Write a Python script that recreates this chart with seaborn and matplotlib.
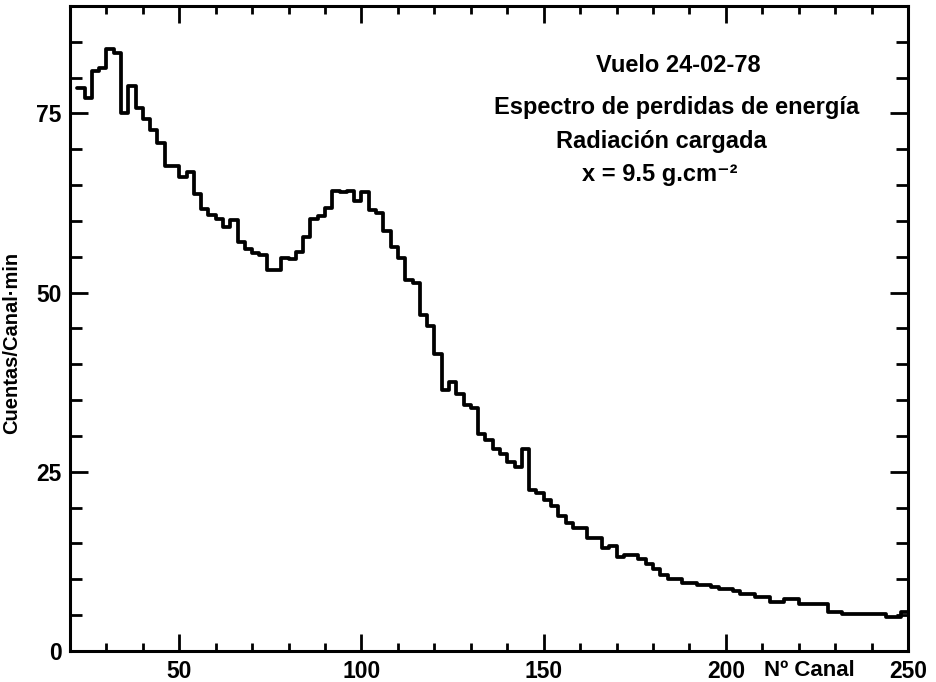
import matplotlib
matplotlib.use("Agg")
import matplotlib.pyplot as plt
import numpy as np
import pandas as pd
import seaborn as sns
from matplotlib.ticker import MultipleLocator

# counts per channel, 2-channel bins starting at channel 22
canal_inicio = 22
ancho_bin = 2
cuentas = [
    78.6, 77.1, 80.9, 81.4, 84.0, 83.5, 75.0, 78.8, 75.7, 74.3,
    72.7, 70.9, 67.7, 67.7, 66.1, 66.8, 63.7, 61.7, 60.9, 60.3,
    59.2, 60.2, 57.1, 56.1, 55.6, 55.2, 53.2, 53.2, 54.9, 54.7,
    55.7, 57.8, 60.3, 60.7, 61.8, 64.2, 64.1, 64.2, 62.8, 64.0,
    61.5, 61.1, 58.6, 56.4, 54.9, 51.8, 51.4, 46.9, 45.3, 41.4,
    36.4, 37.5, 35.9, 34.3, 33.9, 30.3, 29.5, 28.2, 27.5, 26.4,
    25.7, 28.2, 22.4, 22.0, 21.1, 20.2, 18.8, 17.9, 17.2, 17.2,
    15.7, 15.7, 14.3, 14.6, 13.1, 13.4, 13.4, 12.8, 12.1, 11.4,
    10.6, 10.0, 10.0, 9.5, 9.5, 9.2, 9.2, 8.9, 8.7, 8.6,
    8.4, 8.0, 8.0, 7.5, 7.5, 6.9, 6.9, 7.2, 7.2, 6.6,
    6.6, 6.6, 6.6, 5.5, 5.5, 5.2, 5.2, 5.2, 5.2, 5.2,
    5.2, 4.8, 4.8, 5.5,
]

x_ticks = [50, 100, 150, 200, 250]
y_ticks = [0, 25, 50, 75]
textos = [
    "Vuelo 24-02-78",
    "Espectro de perdidas de energía",
    "Radiación cargada",
    "x = 9.5 g.cm⁻²",
]

sns.set_theme(style="ticks")
plt.rcParams["font.family"] = ["Liberation Sans", "DejaVu Sans"]
plt.rcParams["font.weight"] = "bold"
plt.rcParams["text.color"] = "black"
plt.rcParams["axes.labelcolor"] = "black"

bordes = canal_inicio + ancho_bin * np.arange(len(cuentas) + 1)
df = pd.DataFrame({
    "canal": bordes[:-1] + ancho_bin / 2,
    "cuentas": cuentas,
})

fig = plt.figure(figsize=(9.36, 6.82), dpi=100)
ax = fig.add_axes([0.0748, 0.0455, 0.8953, 0.9457])

sns.histplot(
    data=df, x="canal", weights="cuentas", bins=bordes.tolist(),
    element="step", fill=False, color="black", linewidth=2.7,
    ax=ax,
)

ax.set_xlim(20, 250)
ax.set_ylim(0, 90)
ax.set_xticks(x_ticks)
ax.set_yticks(y_ticks)
ax.xaxis.set_minor_locator(MultipleLocator(10))
ax.yaxis.set_minor_locator(MultipleLocator(5))

for side in ax.spines.values():
    side.set_linewidth(2.2)
    side.set_color("black")

ax.tick_params(axis="x", which="both", direction="in", top=True,
               width=2.0, labelsize=16.5, pad=6.5, colors="black")
ax.tick_params(axis="x", which="major", length=12)
ax.tick_params(axis="x", which="minor", length=6)
ax.tick_params(axis="y", which="both", direction="in", right=True,
               width=2.0, labelsize=16.5, pad=6, colors="black")
ax.tick_params(axis="y", which="major", length=13)
ax.tick_params(axis="y", which="minor", length=8.5)

ax.set_xlabel("")
ax.set_ylabel("Cuentas/Canal·min", fontsize=14.5, fontweight="bold",
              color="black")
ax.yaxis.set_label_coords(-0.058, 0.478)

ax.annotate("Nº Canal", xy=(223, 0), xycoords=("data", "axes fraction"),
            xytext=(0, -6.5), textcoords="offset points",
            ha="center", va="top", fontsize=16, fontweight="bold",
            color="black")

y_txt = [0.907, 0.842, 0.790, 0.738]
x_txt = [0.726, 0.724, 0.706, 0.704]
for t, xx, yy in zip(textos, x_txt, y_txt):
    ax.text(xx, yy, t, transform=ax.transAxes, ha="center", va="center",
            fontsize=17, fontweight="bold", color="black")

fig.savefig("out.png", dpi=100)
